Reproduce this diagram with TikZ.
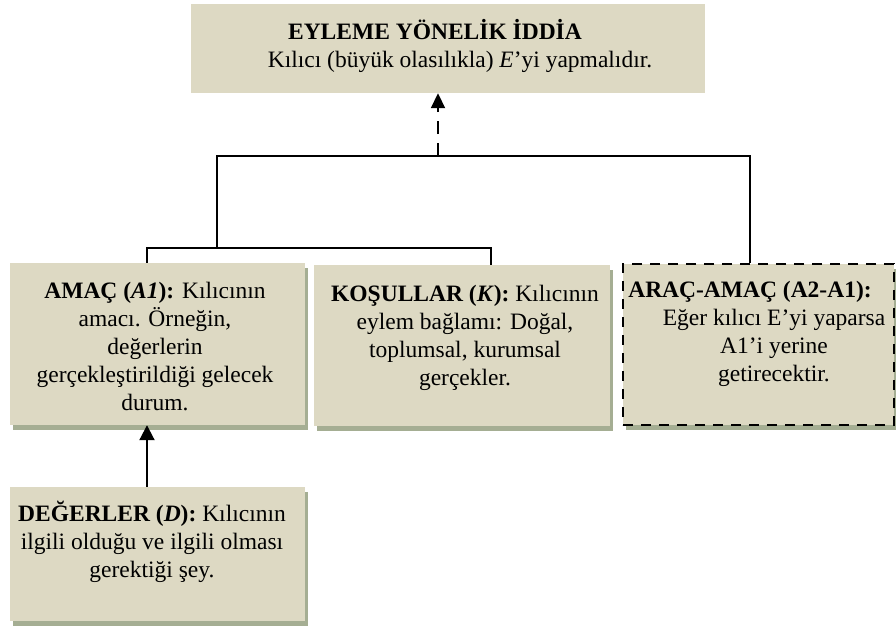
\documentclass[tikz,border=0pt]{standalone}
\usepackage{fontspec}
\setmainfont{Liberation Serif}
\usetikzlibrary{arrows.meta,shadows}
\definecolor{cardfill}{HTML}{DDD9C3}
\definecolor{shadowgreen}{HTML}{A5AE93}

\begin{document}
\begin{tikzpicture}[x=1pt,y=-1pt,
  card/.style={fill=cardfill,inner sep=0pt},
  shadowed/.style={drop shadow={shadow xshift=3pt,shadow yshift=-5pt,fill=shadowgreen,opacity=1}},
  dashedge/.style={draw=black,line width=2.3pt,dash pattern=on 10pt off 8pt},
  txt/.style={align=center,inner sep=0pt,font=\fontsize{23.5}{28}\selectfont},
  link/.style={draw=black,line width=1.3pt},
  dasharrow/.style={link,line width=1.8pt,dash pattern=on 13pt off 9pt,-{Triangle[length=15pt,width=14pt]}},
  solidarrow/.style={link,line width=2pt,-{Triangle[length=15pt,width=15pt]}}]
\useasboundingbox (0,0) rectangle (896,626);

% boxes
\node[card,minimum width=514pt,minimum height=89pt] (iddia) at (448,48.5) {};
\node[txt] (iddia-t) at (460,46) {\textbf{EYLEME YÖNELİK İDDİA}\hspace*{50pt}\\ Kılıcı (büyük olasılıkla) \textit{E}’yi yapmalıdır.};

\node[card,shadowed,minimum width=295pt,minimum height=162pt] (amac) at (157.5,344) {};
\node[txt] (amac-t) at (155,347) {\textbf{AMAÇ (\textit{A1}):} Kılıcının\\ amacı. Örneğin,\\ değerlerin\\ gerçekleştirildiği gelecek\\ durum.};

\node[card,shadowed,minimum width=296pt,minimum height=161pt] (kosul) at (462,345.5) {};
\node[txt] (kosul-t) at (465,337.5) {\textbf{KOŞULLAR (\textit{K}):} Kılıcının\\ eylem bağlamı: Doğal,\\ toplumsal, kurumsal\\ gerçekler.};

\node[card,shadowed,dashedge,minimum width=271pt,minimum height=161pt] (arac) at (758.5,344.5) {};
\node[txt] (arac-t) at (774,334) {\textbf{ARAÇ-AMAÇ (A2-A1):}\hspace*{48pt}\\ Eğer kılıcı E’yi yaparsa\\ A1’i yerine\\ getirecektir.};

\node[card,shadowed,minimum width=295pt,minimum height=134pt] (deger) at (157.5,554) {};
\node[txt] (deger-t) at (152,541.5) {\textbf{DEĞERLER (\textit{D}):} Kılıcının\\ ilgili olduğu ve ilgili olması\\ gerektiği şey.};

% connectors
\coordinate (fork) at (438,156);
\coordinate (upbar) at (217,156);
\coordinate (upend) at (750,156);
\coordinate (lowbar) at (147,248);
\coordinate (lowend) at (491,248);

\draw[link] (amac.north -| lowbar) |- (lowend) -- (lowend |- kosul.north);
\draw[link] (upbar |- lowbar) -- (upbar) -- (upend) -- (upend |- arac.north);
\draw[dasharrow] (fork) -- (fork |- iddia.south);
\draw[solidarrow] (deger.north -| lowbar) -- (amac.south -| lowbar);
\end{tikzpicture}
\end{document}
